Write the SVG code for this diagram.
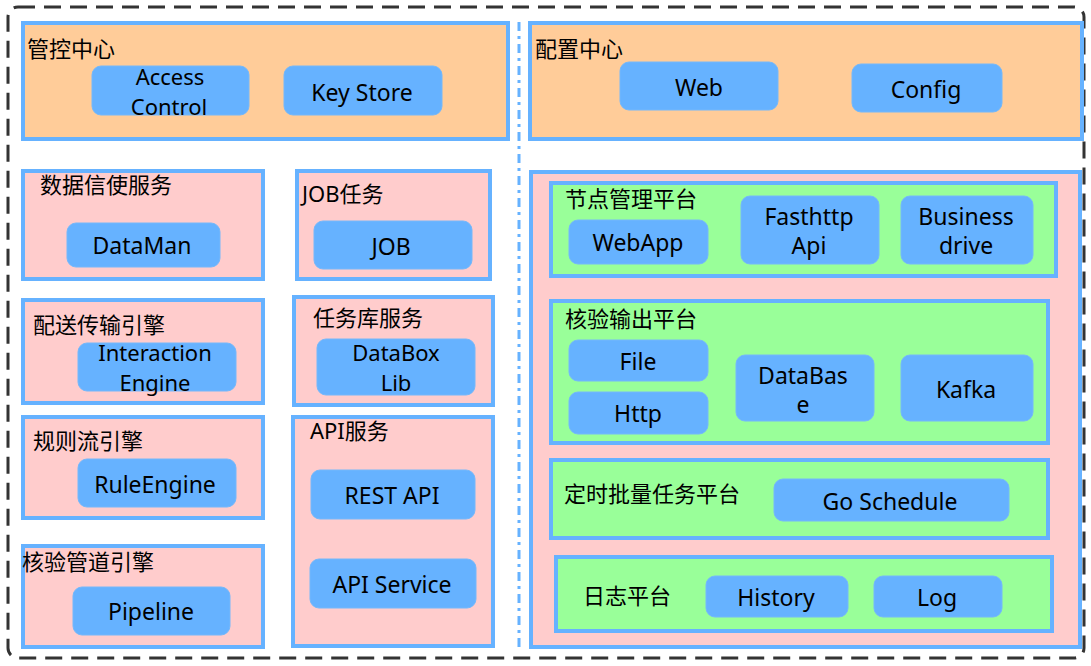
<svg xmlns="http://www.w3.org/2000/svg" width="1091" height="666" viewBox="0 0 1091 666">
<style>
.frame{fill:none;stroke:#333;stroke-width:3;stroke-dasharray:17,9}
.sep{fill:none;stroke:#66b2ff;stroke-width:3;stroke-dasharray:9,5,3,5}
.orange{fill:#ffcc99;stroke:#66b2ff;stroke-width:4}
.pink{fill:#ffcccc;stroke:#66b2ff;stroke-width:4}
.green{fill:#99ff99;stroke:#66b2ff;stroke-width:4}
.node{fill:#66b2ff;stroke:#74b8fb;stroke-width:1}
.lbl{font-family:"Noto Sans","Noto Sans CJK SC",sans-serif;font-size:22px;fill:#000}
.t{font-family:"Noto Sans","Noto Sans CJK SC",sans-serif;font-size:23px;fill:#000;text-anchor:middle;dominant-baseline:central}
.t2{font-size:22px}
</style>
<rect class="frame" x="8" y="7" width="1076" height="651" rx="10"/>
<g id="connectors">
<line class="sep" x1="519" y1="22" x2="519" y2="650"/>
</g>
<g id="guankong">
<rect class="orange" x="23" y="23" width="485" height="116"/>
<text class="lbl" x="27" y="57">管控中心</text>
</g>
<g id="access-control">
<rect class="node" x="92" y="66" width="157" height="49" rx="9"/>
<text class="t t2" x="170" y="76">Access</text>
<text class="t t2" x="169" y="106">Control</text>
</g>
<g id="key-store">
<rect class="node" x="284" y="66" width="158" height="49" rx="9"/>
<text class="t" x="362" y="92">Key Store</text>
</g>
<g id="peizhi">
<rect class="orange" x="530" y="23" width="552" height="116"/>
<text class="lbl" x="535" y="57">配置中心</text>
</g>
<g id="web">
<rect class="node" x="620" y="62" width="158" height="48" rx="9"/>
<text class="t" x="699" y="87">Web</text>
</g>
<g id="config">
<rect class="node" x="852" y="64" width="150" height="48" rx="9"/>
<text class="t" x="926" y="89">Config</text>
</g>
<g id="shuju">
<rect class="pink" x="23" y="171" width="240" height="108"/>
<text class="lbl" x="40" y="193">数据信使服务</text>
</g>
<g id="dataman">
<rect class="node" x="67" y="223" width="153" height="44" rx="9"/>
<text class="t" x="142" y="245">DataMan</text>
</g>
<g id="job-task">
<rect class="pink" x="297" y="171" width="193" height="108"/>
<text class="lbl" x="302" y="202">JOB任务</text>
</g>
<g id="job">
<rect class="node" x="314" y="221" width="158" height="48" rx="9"/>
<text class="t" x="391" y="246">JOB</text>
</g>
<g id="peisong">
<rect class="pink" x="23" y="300" width="240" height="103"/>
<text class="lbl" x="33" y="333">配送传输引擎</text>
</g>
<g id="interaction-engine">
<rect class="node" x="78" y="343" width="158" height="48" rx="9"/>
<text class="t t2" x="155" y="352">Interaction</text>
<text class="t t2" x="155" y="382">Engine</text>
</g>
<g id="renwuku">
<rect class="pink" x="294" y="297" width="199" height="108"/>
<text class="lbl" x="313" y="326">任务库服务</text>
</g>
<g id="databox-lib">
<rect class="node" x="317" y="339" width="158" height="56" rx="9"/>
<text class="t t2" x="396" y="352">DataBox</text>
<text class="t t2" x="396" y="382">Lib</text>
</g>
<g id="guize">
<rect class="pink" x="23" y="417" width="240" height="101"/>
<text class="lbl" x="33" y="449">规则流引擎</text>
</g>
<g id="ruleengine">
<rect class="node" x="78" y="459" width="158" height="48" rx="9"/>
<text class="t" x="155" y="484">RuleEngine</text>
</g>
<g id="api-service-group">
<rect class="pink" x="293" y="417" width="200" height="229"/>
<text class="lbl" x="310" y="439">API服务</text>
</g>
<g id="rest-api">
<rect class="node" x="311" y="470" width="164" height="49" rx="9"/>
<text class="t" x="392" y="495">REST API</text>
</g>
<g id="api-service">
<rect class="node" x="310" y="559" width="166" height="49" rx="9"/>
<text class="t" x="392" y="584">API Service</text>
</g>
<g id="hexiao-guandao">
<rect class="pink" x="23" y="546" width="240" height="101"/>
<text class="lbl" x="22" y="570">核验管道引擎</text>
</g>
<g id="pipeline">
<rect class="node" x="73" y="587" width="157" height="48" rx="9"/>
<text class="t" x="151" y="611">Pipeline</text>
</g>
<g id="right-platforms">
<rect class="pink" x="531" y="172" width="549" height="475"/>
</g>
<g id="jiedian">
<rect class="green" x="551" y="183" width="505" height="93"/>
<text class="lbl" x="565" y="207">节点管理平台</text>
</g>
<g id="webapp">
<rect class="node" x="569" y="220" width="139" height="44" rx="9"/>
<text class="t" x="638" y="242">WebApp</text>
</g>
<g id="fasthttp-api">
<rect class="node" x="741" y="196" width="138" height="68" rx="9"/>
<text class="t" x="809" y="216">Fasthttp</text>
<text class="t" x="809" y="245">Api</text>
</g>
<g id="business-drive">
<rect class="node" x="901" y="196" width="132" height="68" rx="9"/>
<text class="t" x="966" y="216">Business</text>
<text class="t" x="966" y="245">drive</text>
</g>
<g id="hexiao-shuchu">
<rect class="green" x="551" y="301" width="497" height="142"/>
<text class="lbl" x="565" y="327">核验输出平台</text>
</g>
<g id="file">
<rect class="node" x="569" y="340" width="139" height="41" rx="9"/>
<text class="t" x="638" y="361">File</text>
</g>
<g id="http">
<rect class="node" x="569" y="392" width="139" height="42" rx="9"/>
<text class="t" x="638" y="413">Http</text>
</g>
<g id="database">
<rect class="node" x="736" y="355" width="138" height="66" rx="9"/>
<text class="t" x="803" y="375">DataBas</text>
<text class="t" x="803" y="404">e</text>
</g>
<g id="kafka">
<rect class="node" x="901" y="355" width="132" height="66" rx="9"/>
<text class="t" x="966" y="389">Kafka</text>
</g>
<g id="dingshi">
<rect class="green" x="551" y="460" width="497" height="78"/>
<text class="lbl" x="564" y="502">定时批量任务平台</text>
</g>
<g id="go-schedule">
<rect class="node" x="774" y="479" width="235" height="42" rx="9"/>
<text class="t" x="890" y="501">Go Schedule</text>
</g>
<g id="rizhi">
<rect class="green" x="556" y="557" width="496" height="74"/>
<text class="lbl" x="583" y="604">日志平台</text>
</g>
<g id="history">
<rect class="node" x="706" y="576" width="142" height="41" rx="9"/>
<text class="t" x="776" y="597">History</text>
</g>
<g id="log">
<rect class="node" x="874" y="576" width="128" height="41" rx="9"/>
<text class="t" x="937" y="597">Log</text>
</g>
</svg>
